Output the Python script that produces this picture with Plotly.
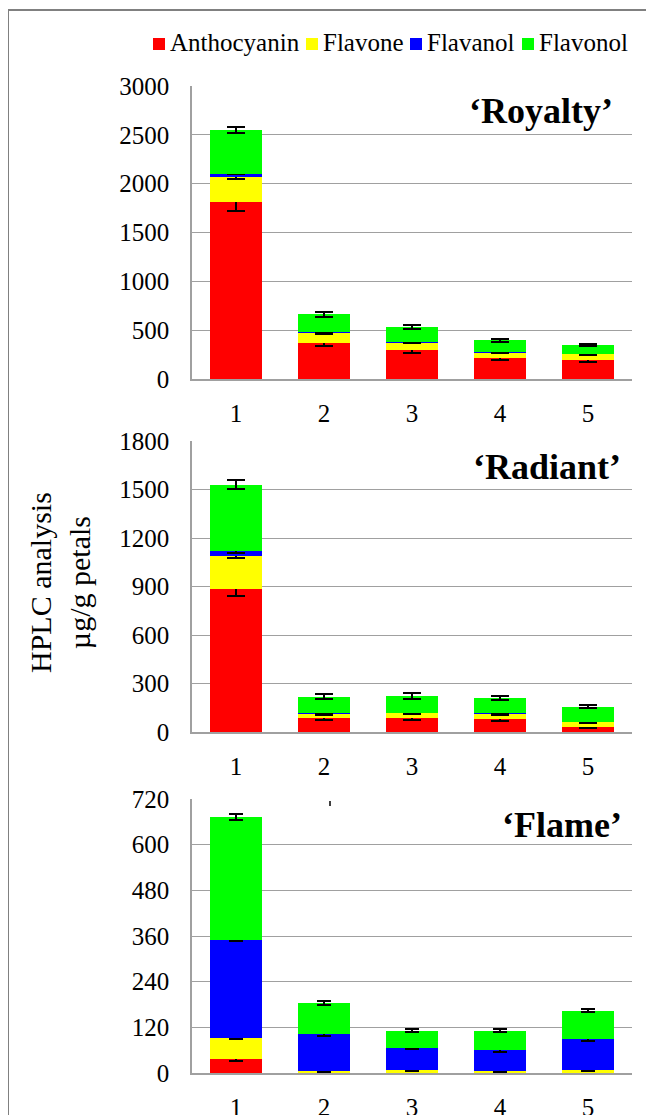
import plotly.graph_objects as go

W, H = 654, 1115

categories = ["1", "2", "3", "4", "5"]
series_names = ["Anthocyanin", "Flavone", "Flavanol", "Flavonol"]
series_colors = ["#FF0000", "#FFFF00", "#0000FF", "#00FF00"]
panel_titles = ["\u2018Royalty\u2019", "\u2018Radiant\u2019", "\u2018Flame\u2019"]
y_axis_title = "HPLC analysis<br>\u00b5g/g petals"

# 'Royalty'
royalty_anthocyanin = [1810, 368, 293, 211, 194]
royalty_flavone = [256, 109, 85, 62, 62]
royalty_flavanol = [38, 3, 3, 3, 3]
royalty_flavonol = [446, 181, 151, 119, 89]
royalty_anthocyanin_err = [85, 27, 31, 14, 20]
royalty_flavone_err = [20, 17, 10, 7, 12]
royalty_flavanol_err = [8, 0, 0, 0, 0]
royalty_flavonol_err = [27, 27, 20, 17, 10]

# 'Radiant'
radiant_anthocyanin = [887, 87, 87, 80, 31]
radiant_flavone = [200, 26, 31, 33, 31]
radiant_flavanol = [33, 2, 2, 2, 2]
radiant_flavonol = [410, 102, 105, 95, 91]
radiant_anthocyanin_err = [43, 15, 12, 10, 6]
radiant_flavone_err = [12, 8, 8, 6, 6]
radiant_flavanol_err = [10, 0, 0, 0, 0]
radiant_flavonol_err = [29, 15, 18, 15, 9]

# 'Flame'
flame_anthocyanin = [37, 1, 1, 1, 1]
flame_flavone = [55, 4, 8, 4, 6]
flame_flavanol = [258, 97, 58, 55, 82]
flame_flavonol = [323, 82, 44, 51, 75]
flame_anthocyanin_err = [5, 0, 0, 0, 0]
flame_flavone_err = [3.5, 2.5, 3, 2, 2.5]
flame_flavanol_err = [4, 5, 4.4, 5.7, 5]
flame_flavonol_err = [7, 4, 4.4, 4.4, 5]

y_ranges = [[0, 3000], [0, 1800], [0, 720]]
y_dticks = [500, 300, 120]

panels = [
    ([royalty_anthocyanin, royalty_flavone, royalty_flavanol, royalty_flavonol],
     [royalty_anthocyanin_err, royalty_flavone_err, royalty_flavanol_err, royalty_flavonol_err]),
    ([radiant_anthocyanin, radiant_flavone, radiant_flavanol, radiant_flavonol],
     [radiant_anthocyanin_err, radiant_flavone_err, radiant_flavanol_err, radiant_flavonol_err]),
    ([flame_anthocyanin, flame_flavone, flame_flavanol, flame_flavonol],
     [flame_anthocyanin_err, flame_flavone_err, flame_flavanol_err, flame_flavonol_err]),
]

# page body has an 8px margin; layout positions below are given in screen pixels
OFF = 8


def px(x):
    return (x - OFF) / W


def py(y):
    return 1 - (y - OFF) / H


FONT = "Liberation Serif"

panel_y = [(86, 379), (441, 732), (799, 1073)]
x_left, x_right = 192, 632
cap_hw = [9, 9, 7]
title_pos = [(615, 111), (623, 467), (624, 825)]

fig = go.Figure()

for p, (vals, errs) in enumerate(panels):
    xa = "x" if p == 0 else f"x{p+1}"
    ya = "y" if p == 0 else f"y{p+1}"
    for s in range(4):
        fig.add_trace(go.Bar(
            x=categories, y=vals[s], name=series_names[s],
            marker=dict(color=series_colors[s], line=dict(width=0)),
            error_y=dict(type="data", array=errs[s], symmetric=True,
                         color="black", thickness=2, width=cap_hw[p]),
            xaxis=xa, yaxis=ya, showlegend=False,
        ))

layout = dict(
    width=W, height=H,
    margin=dict(l=0, r=0, t=0, b=0, pad=0, autoexpand=False),
    paper_bgcolor="white", plot_bgcolor="white",
    barmode="stack", bargap=0.41,
    showlegend=False,
    font=dict(family=FONT, color="black", size=25),
)

grid_color = "#A0A0A0"
for p in range(3):
    top, bot = panel_y[p]
    suffix = "" if p == 0 else str(p + 1)
    layout["xaxis" + suffix] = dict(
        domain=[px(x_left), px(x_right)],
        anchor="y" + suffix,
        type="category", range=[-0.5, 4.5],
        showline=True, linecolor=grid_color, linewidth=1.5,
        showgrid=False, ticks="", automargin=False,
        tickfont=dict(family=FONT, size=25, color="black"),
        ticklabelstandoff=11,
        fixedrange=True,
    )
    layout["yaxis" + suffix] = dict(
        domain=[py(bot), py(top)],
        anchor="x" + suffix,
        range=y_ranges[p], dtick=y_dticks[p], tick0=0,
        showline=True, linecolor=grid_color, linewidth=1.5,
        showgrid=True, gridcolor=grid_color, gridwidth=1.3,
        zeroline=False, ticks="", automargin=False,
        tickfont=dict(family=FONT, size=25, color="black"),
        ticklabelstandoff=16,
        fixedrange=True,
    )

annotations = []
for p in range(3):
    tx, ty = title_pos[p]
    annotations.append(dict(
        text="<b>" + panel_titles[p] + "</b>", xref="paper", yref="paper",
        x=px(tx), y=py(ty), xanchor="right", yanchor="middle",
        showarrow=False, font=dict(family=FONT, size=36, color="black"),
    ))

annotations.append(dict(
    text=y_axis_title, xref="paper", yref="paper",
    x=px(60), y=py(583), xanchor="center", yanchor="middle",
    textangle=-90, showarrow=False,
    font=dict(family=FONT, size=30, color="black"),
))

legend_text_x = [170, 323, 427, 539]
legend_y = 43
shapes = []
for s in range(4):
    tx = legend_text_x[s]
    shapes.append(dict(
        type="rect", xref="paper", yref="paper",
        x0=px(tx - 17), x1=px(tx - 5), y0=py(legend_y + 7), y1=py(legend_y - 5),
        fillcolor=series_colors[s], line=dict(width=0),
    ))
    annotations.append(dict(
        text=series_names[s], xref="paper", yref="paper",
        x=px(tx - 2), y=py(legend_y), xanchor="left", yanchor="middle",
        showarrow=False, font=dict(family=FONT, size=25, color="black"),
    ))

# outer frame (top and left edges)
shapes.append(dict(type="line", xref="paper", yref="paper",
                   x0=px(8), x1=1, y0=py(10), y1=py(10),
                   line=dict(color="#808080", width=2)))
shapes.append(dict(type="line", xref="paper", yref="paper",
                   x0=px(8), x1=px(8), y0=py(10), y1=0,
                   line=dict(color="#808080", width=2)))
# small stray tick mark seen in the original figure
shapes.append(dict(type="line", xref="paper", yref="paper",
                   x0=px(330), x1=px(330), y0=py(801), y1=py(806),
                   line=dict(color="black", width=1.5)))

layout["annotations"] = annotations
layout["shapes"] = shapes
fig.update_layout(**layout)

fig.write_html("out.html", config={"displayModeBar": False})
